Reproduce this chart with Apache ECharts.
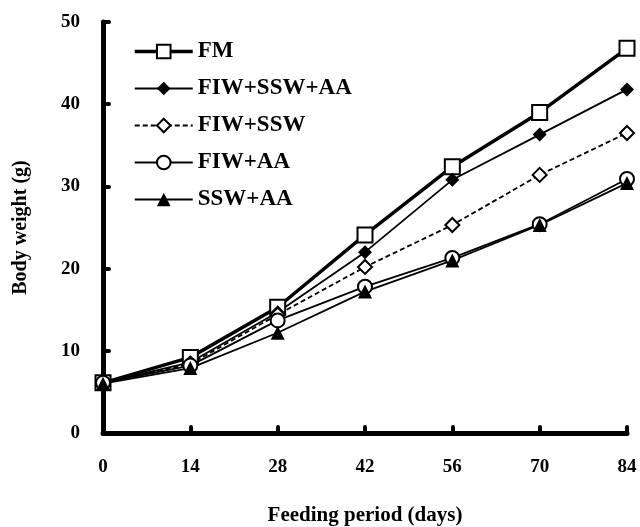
<!DOCTYPE html>
<html>
<head>
<meta charset="utf-8">
<script src="https://cdn.jsdelivr.net/npm/echarts@6/dist/echarts.min.js"></script>
<style>
  html, body { margin: 0; padding: 0; background: #fff; }
  #chart { width: 640px; height: 527px; }
</style>
</head>
<body>
<div id="chart"></div>
<script>
var days = [0, 14, 28, 42, 56, 70, 84];
var seriesNames = ['FM', 'FIW+SSW+AA', 'FIW+SSW', 'FIW+AA', 'SSW+AA'];
var fm = [6.1, 9.2, 15.3, 24.1, 32.4, 39.0, 46.8];
var fiwSswAa = [6.1, 8.6, 14.7, 22.0, 30.8, 36.3, 41.8];
var fiwSsw = [6.1, 8.4, 14.4, 20.2, 25.3, 31.4, 36.5];
var fiwAa = [6.1, 8.2, 13.7, 17.8, 21.3, 25.4, 30.9];
var sswAa = [6.0, 7.9, 12.2, 17.2, 21.0, 25.3, 30.4];

var font = 'Liberation Serif';

function pairs(vals) {
    return days.map(function (d, i) { return [d, vals[i]]; });
}

// FM gets a heavier line in the legend too
var legendData = seriesNames.map(function (n) {
    return n === 'FM' ? { name: n, lineStyle: { width: 3.5 } } : { name: n };
});

var chart = echarts.init(document.getElementById('chart'));
var option = {
    backgroundColor: '#fff',
    animation: false,
    grid: { left: 103, right: 13, top: 22, bottom: 94, outerBoundsMode: 'none' },
    legend: {
        orient: 'vertical',
        left: 128,
        top: 35,
        itemGap: 14,
        itemWidth: 58,
        itemHeight: 17,
        textStyle: { fontFamily: font, fontWeight: 'bold', fontSize: 23, color: '#000' },
        data: legendData
    },
    xAxis: {
        type: 'value',
        min: 0,
        max: 84,
        interval: 14,
        name: 'Feeding period (days)',
        nameLocation: 'middle',
        nameGap: 72,
        nameTextStyle: { fontFamily: font, fontWeight: 'bold', fontSize: 21, color: '#000' },
        axisLine: { lineStyle: { color: '#000', width: 5 } },
        axisTick: { inside: true, length: 6, lineStyle: { color: '#000', width: 4, cap: 'round' } },
        axisLabel: { margin: 25, fontFamily: font, fontWeight: 'bold', fontSize: 19, color: '#000' },
        splitLine: { show: false }
    },
    yAxis: {
        type: 'value',
        min: 0,
        max: 50,
        interval: 10,
        name: 'Body weight (g)',
        nameLocation: 'middle',
        nameGap: 72,
        nameTextStyle: { fontFamily: font, fontWeight: 'bold', fontSize: 20, color: '#000' },
        axisLine: { show: true, lineStyle: { color: '#000', width: 5 } },
        axisTick: { show: true, inside: true, length: 6, lineStyle: { color: '#000', width: 4, cap: 'round' } },
        axisLabel: { margin: 23, fontFamily: font, fontWeight: 'bold', fontSize: 19, color: '#000' },
        splitLine: { show: false }
    },
    series: [
        {
            name: 'FM', type: 'line', data: pairs(fm),
            symbol: 'emptyRect', symbolSize: 15,
            lineStyle: { color: '#000', width: 3.5 },
            itemStyle: { color: '#000', borderColor: '#000', borderWidth: 1.5 }
        },
        {
            name: 'FIW+SSW+AA', type: 'line', data: pairs(fiwSswAa),
            symbol: 'diamond', symbolSize: 14,
            lineStyle: { color: '#000', width: 1.8 },
            itemStyle: { color: '#000' }
        },
        {
            name: 'FIW+SSW', type: 'line', data: pairs(fiwSsw),
            symbol: 'emptyDiamond', symbolSize: 14,
            lineStyle: { color: '#000', width: 1.8, type: [5, 3] },
            itemStyle: { color: '#000', borderColor: '#000', borderWidth: 1 }
        },
        {
            name: 'FIW+AA', type: 'line', data: pairs(fiwAa),
            symbol: 'emptyCircle', symbolSize: 14,
            lineStyle: { color: '#000', width: 1.8 },
            itemStyle: { color: '#000', borderColor: '#000', borderWidth: 1 }
        },
        {
            name: 'SSW+AA', type: 'line', data: pairs(sswAa),
            symbol: 'triangle', symbolSize: 14,
            lineStyle: { color: '#000', width: 1.8 },
            itemStyle: { color: '#000' }
        }
    ]
};
chart.setOption(option);
</script>
</body>
</html>
